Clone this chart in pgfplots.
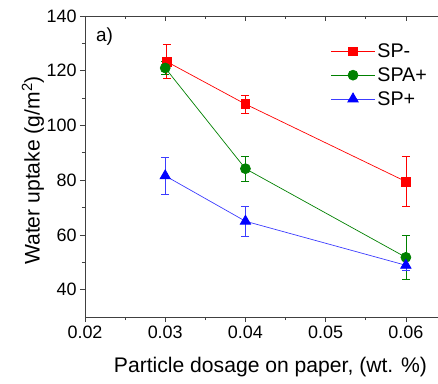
\documentclass[border=0pt]{standalone}
\usepackage{fontspec}
\setmainfont{Liberation Sans}
\usepackage{pgfplots}
\pgfplotsset{compat=1.18}
\definecolor{cRed}{RGB}{255,0,0}
\definecolor{cGreen}{RGB}{0,128,0}
\definecolor{cBlue}{RGB}{0,0,255}
\definecolor{cBlueL}{RGB}{60,60,255}
\begin{document}
\begin{tikzpicture}
\pgfplotsset{
  common/.style={
    scale only axis, width=361bp, height=301bp,
    xmin=0.02, xmax=0.065, ymin=30, ymax=140,
    scaled x ticks=false, scaled y ticks=false,
    xtick={0.02,0.03,0.04,0.05,0.06}, minor x tick num=1,
    ytick={40,60,80,100,120,140}, minor y tick num=1,
    axis line style={line width=0.7pt, black!75},
    major tick length=5bp, minor tick length=3bp,
    every tick/.style={line width=0.7pt, black!75},
  }
}
\begin{axis}[common,
  tick align=outside, xtick pos=bottom, ytick pos=left,
  font=\fontsize{18}{22}\selectfont,
  /pgf/number format/assume math mode=true,
  xticklabel style={/pgf/number format/fixed, /pgf/number format/fixed zerofill, /pgf/number format/precision=2},
  xlabel={Particle dosage on paper, (wt. \%)},
  ylabel={Water uptake (g/m\textsuperscript{2})},
  label style={font=\fontsize{21.2}{24}\selectfont},
  xlabel style={at={(axis description cs:0.5,0)}, anchor=center, yshift=-50bp, xshift=5bp},
  ylabel style={at={(axis description cs:0,0.5)}, anchor=center, yshift=52bp, xshift=-4bp},
  legend style={at={(rel axis cs:0.68,0.915)}, anchor=north west, draw=none, fill=none,
    font=\fontsize{19.8}{22}\selectfont, row sep=4.5bp, inner sep=0pt,
    /tikz/every even column/.append style={column sep=5bp}},
  legend cell align=left,
  legend image code/.code={\draw[mark repeat=2,mark phase=2] plot coordinates {(0bp,0bp) (22bp,0bp) (44bp,0bp)};},
]
\addplot[cRed, line width=0.7pt, mark=square*, mark size=4.3bp, mark options={solid, fill=cRed},
  error bars/.cd, y dir=both, y explicit, error bar style={line width=0.7pt, cRed},
  error mark options={rotate=90, mark size=4bp, line width=0.7pt, cRed}]
  coordinates {(0.0302,123.3) +- (0,6.2) (0.04,107.8) +- (0,3.3) (0.06,79.5) +- (0,9.1)};
\addlegendentry{SP-}
\addplot[cGreen, line width=0.7pt, mark=*, mark size=5bp, mark options={solid, fill=cGreen},
  error bars/.cd, y dir=both, y explicit, error bar style={line width=0.7pt, cGreen},
  error mark options={rotate=90, mark size=4bp, line width=0.7pt, cGreen}]
  coordinates {(0.03,121.0) +- (0,2.5) (0.04,84.2) +- (0,4.6) (0.06,51.8) +- (0,7.9)};
\addlegendentry{SPA+}
\addplot[cBlueL, line width=0.7pt, mark=triangle*, mark size=6bp, mark options={solid, fill=cBlue, draw=cBlue},
  error bars/.cd, y dir=both, y explicit, error bar style={line width=0.7pt, cBlueL},
  error mark options={rotate=90, mark size=4bp, line width=0.7pt, cBlueL}]
  coordinates {(0.03,81.6) +- (0,6.7) (0.04,65.0) +- (0,5.5) (0.06,48.9) +- (0,1.9)};
\addlegendentry{SP+}
\node[anchor=north west, font=\fontsize{19}{22}\selectfont, inner sep=0pt] at ([xshift=11bp,yshift=-12bp]rel axis cs:0,1) {a)};
\coordinate (O) at (rel axis cs:0,0);
\end{axis}
\begin{axis}[common, tick align=inside, xtick pos=top, ytick pos=right,
  xticklabels={}, yticklabels={}]
\end{axis}
\pgfresetboundingbox
\useasboundingbox ([xshift=-85bp,yshift=-67bp]O) rectangle ([xshift=353bp,yshift=317bp]O);
\end{tikzpicture}
\end{document}
